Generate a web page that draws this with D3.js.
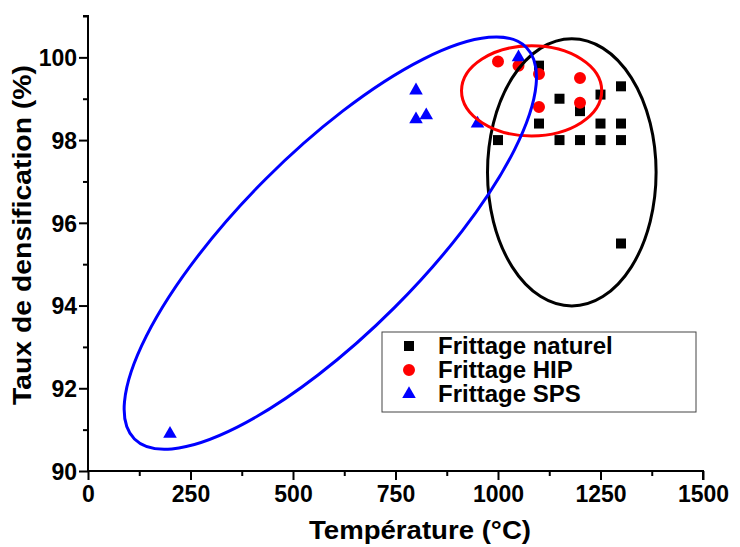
<!DOCTYPE html>
<html><head><meta charset="utf-8">
<script src="https://cdn.jsdelivr.net/npm/d3@7"></script>
<style>body{margin:0;background:#fff}svg{display:block}text{font-family:"Liberation Sans",Arial,sans-serif;font-weight:bold}</style>
</head><body><svg id="c" width="740" height="547"></svg>
<script>
// ---- data ----
const naturelT = [1000,1100,1100,1150,1150,1200,1200,1250,1250,1250,1300,1300,1300,1300];
const naturelD = [98.0,99.8,98.4,99.0,98.0,98.7,98.0,99.1,98.4,98.0,99.3,98.4,98.0,95.5];
const hipT = [1000,1050,1100,1200,1100,1200];
const hipD = [99.9,99.8,99.6,99.5,98.8,98.9];
const spsT = [800,800,825,950,1050,200];
const spsD = [99.2,98.5,98.6,98.4,100.0,90.9];
const seriesNames = ["Frittage naturel","Frittage HIP","Frittage SPS"];
const xTicks = [0,250,500,750,1000,1250,1500];
const xMinor = [125,375,625,875,1125,1375];
const yTicks = [90,92,94,96,98,100];
const yMinor = [91,93,95,97,99,101];
// grouping ellipses (centre in data units, half-axes in data units)
const groupCx = [1180,1082];
const groupCy = [97.22,99.19];
const groupRx = [205.6,171];
const groupRy = [3.23,1.09];
// SPS group ellipse (centre in data units)
const spsCx = 591, spsCy = 95.51;

// ---- layout ----
const svg = d3.select("#c");
const x = d3.scaleLinear().domain([0,1500]).range([88,703]);
const y = d3.scaleLinear().domain([90,101]).range([471,16]);
const colors = ["#000000","#ff0000","#0000ff"];
const symbols = [d3.symbolSquare,d3.symbolCircle,d3.symbolTriangle];
const sizes = [100,113,80];

// axes
const gx = svg.append("g").attr("transform","translate(0,471)");
gx.call(d3.axisBottom(x).tickValues(xTicks).tickSize(9).tickPadding(6).tickFormat(d3.format("d")));
const gxm = svg.append("g").attr("transform","translate(0,471)");
gxm.call(d3.axisBottom(x).tickValues(xMinor).tickSize(5).tickFormat(""));
const gy = svg.append("g").attr("transform","translate(88,0)");
gy.call(d3.axisLeft(y).tickValues(yTicks).tickSize(9).tickPadding(2).tickFormat(d3.format("d")));
const gym = svg.append("g").attr("transform","translate(88,0)");
gym.call(d3.axisLeft(y).tickValues(yMinor).tickSize(5).tickFormat(""));
svg.selectAll(".domain").attr("stroke","#000").attr("stroke-width",2);
svg.selectAll(".tick line").attr("stroke","#000").attr("stroke-width",2);
gx.selectAll(".tick text").attr("font-size",23).attr("fill","#000").attr("font-family","Liberation Sans, Arial").attr("font-weight","bold");
gy.selectAll(".tick text").attr("font-size",23).attr("fill","#000").attr("font-family","Liberation Sans, Arial").attr("font-weight","bold").attr("dy","0.36em");
gxm.select(".domain").remove(); gym.select(".domain").remove();
gx.select(".domain").attr("d",`M88,0H703V9`);
gy.select(".domain").attr("d",`M-5,${y(101)}H0V471`);

// titles
svg.append("text").attr("x",420).attr("y",539).attr("text-anchor","middle")
  .attr("font-size",26).attr("textLength",222).attr("lengthAdjust","spacingAndGlyphs").text("Température (°C)");
svg.append("text").attr("transform",`translate(31,235) rotate(-90)`).attr("text-anchor","middle")
  .attr("font-size",26).attr("textLength",340).attr("lengthAdjust","spacingAndGlyphs").text("Taux de densification (%)");

// points
const series = [[naturelT,naturelD],[hipT,hipD],[spsT,spsD]];
series.forEach((s,i)=>{
  svg.append("g").selectAll("path").data(s[0].map((t,j)=>[t,s[1][j]])).join("path")
    .attr("d",d3.symbol().type(symbols[i]).size(sizes[i]))
    .attr("transform",d=>`translate(${x(d[0])},${y(d[1])})`)
    .attr("fill",colors[i]);
});

// group ellipses
groupCx.forEach((cx,i)=>{
  svg.append("ellipse").attr("cx",x(cx)).attr("cy",y(groupCy[i]))
    .attr("rx",x(cx+groupRx[i])-x(cx)).attr("ry",y(groupCy[i]-groupRy[i])-y(groupCy[i]))
    .attr("fill","none").attr("stroke",colors[i]).attr("stroke-width",3);
});
svg.append("ellipse").attr("cx",0).attr("cy",0).attr("rx",277).attr("ry",91)
  .attr("transform",`translate(${x(spsCx)},${y(spsCy)}) rotate(-45)`)
  .attr("fill","none").attr("stroke",colors[2]).attr("stroke-width",3);

// legend
const lg = svg.append("g");
lg.append("rect").attr("x",382).attr("y",332).attr("width",314).attr("height",80)
  .attr("fill","#fff").attr("stroke","#444").attr("stroke-width",1);
seriesNames.forEach((n,i)=>{
  const yy = 346 + i*24;
  lg.append("path").attr("d",d3.symbol().type(symbols[i]).size(sizes[i]))
    .attr("transform",`translate(409,${yy})`).attr("fill",colors[i]);
  lg.append("text").attr("x",438).attr("y",yy+8).attr("font-size",24).text(n);
});
</script></body></html>
